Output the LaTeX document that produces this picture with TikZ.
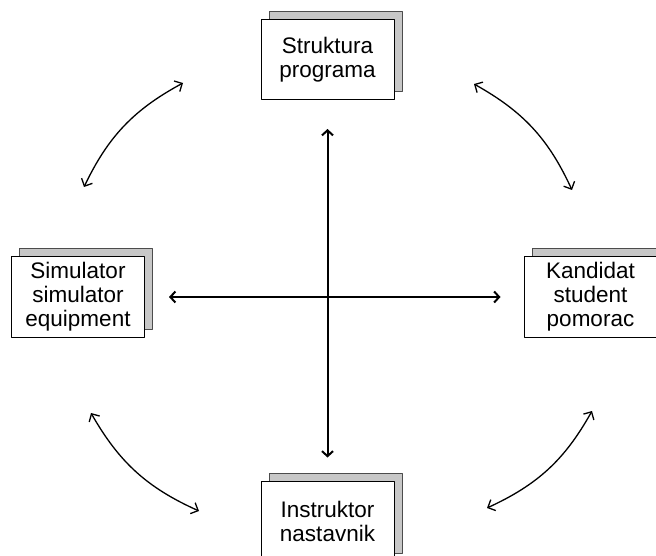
\documentclass[tikz,border=0pt]{standalone}
\usepackage{fontspec}
\setmainfont{Liberation Sans}
\usetikzlibrary{arrows.meta, shadows}

\begin{document}
\begin{tikzpicture}[x=1pt, y=-1pt, line cap=round, line join=round,
    box/.style={draw=black, line width=1pt, fill=white, minimum width=133pt,
        minimum height=80pt, inner sep=0pt, align=center,
        font=\fontsize{22.5}{24}\selectfont,
        copy shadow={shadow xshift=8pt, shadow yshift=8pt, fill=black!22, draw=black!70}},
    link/.style={{Straight Barb[length=5pt,width=11pt]}-{Straight Barb[length=5pt,width=11pt]}, line width=2pt},
    arc/.style={{Straight Barb[length=6pt,width=12pt]}-{Straight Barb[length=6pt,width=12pt]}, line width=1.3pt}]
    \useasboundingbox (0,0) rectangle (656,556);

    % the four boxes
    \node[box] (prog)  at (327.5,59.5) {Struktura\\programa};
    \node[box] (sim)   at (78,297)     {Simulator\\simulator\\equipment};
    \node[box] (cand)  at (590.5,297)  {Kandidat\\student\\pomorac};
    \node[box] (instr) at (327.5,521)  {Instruktor\\nastavnik};

    % the cross in the middle
    \draw[link, shorten <=29pt, shorten >=23pt] (prog.south) -- (instr.north);
    \draw[link, shorten <=24pt, shorten >=23pt] (sim.east) -- (cand.west);

    % ends of the curved arrows
    \coordinate (tl1) at (183,83);
    \coordinate (tl2) at (84,187);
    \coordinate (tr1) at (474,84);
    \coordinate (tr2) at (572,190);
    \coordinate (bl1) at (91,413);
    \coordinate (bl2) at (199,511);
    \coordinate (br1) at (592,411);
    \coordinate (br2) at (487,508);

    \draw[arc] (tl1) to[bend right=18] (tl2);
    \draw[arc] (tr1) to[bend left=18] (tr2);
    \draw[arc] (bl1) to[bend right=18] (bl2);
    \draw[arc] (br1) to[bend left=18] (br2);
\end{tikzpicture}
\end{document}
